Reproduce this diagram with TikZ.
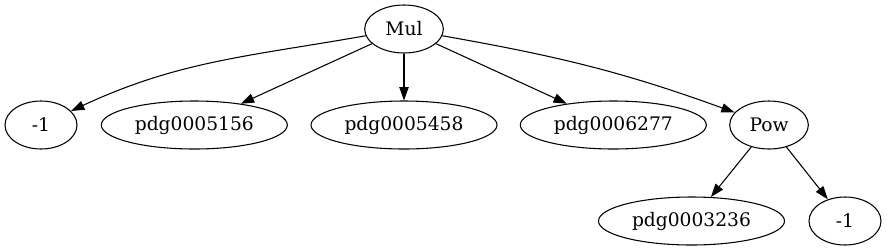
\documentclass[tikz,border=0pt]{standalone}
\usepackage{fontspec}
\setmainfont{DejaVu Serif}
\usetikzlibrary{shapes.geometric,arrows.meta}
\tikzset{
  tree/.style={ellipse, draw, line width=0.8pt, inner sep=0pt, minimum height=36pt, font=\fontsize{14pt}{16pt}\selectfont},
  opnode/.style={tree, minimum width=59pt},
  numnode/.style={tree, minimum width=54pt},
  symnode/.style={tree, minimum width=139.5pt},
  edge/.style={-{Triangle[length=10pt,width=7pt]}, line width=0.8pt}
}
\begin{document}
\begin{tikzpicture}[x=0.75pt, y=-0.75pt]
  \useasboundingbox (0,0) rectangle (887,251);
  % Top level
  \node[opnode] (mul) at (404,29) {Mul};
  % Factors
  \node[numnode] (negone) at (41,125) {-1};
  \node[symnode] (pdgA) at (194.3,125) {pdg0005156};
  \node[symnode] (pdgB) at (404,125) {pdg0005458};
  \node[symnode] (pdgC) at (613.3,125) {pdg0006277};
  \node[opnode] (pow) at (769,125) {Pow};
  % Power arguments
  \node[symnode] (pdgD) at (691.5,221) {pdg0003236};
  \node[numnode] (expo) at (845,221) {-1};

  % Edges
  \draw[edge] (mul) to[out=190, in=25] (negone);
  \draw[edge] (mul) -- (pdgA);
  \draw[edge] (mul) -- (pdgB);
  \draw[edge] (mul) -- (pdgC);
  \draw[edge] (mul) to[out=-10, in=160] (pow);
  \draw[edge] (pow) -- (pdgD);
  \draw[edge] (pow) -- (expo);
\end{tikzpicture}
\end{document}
